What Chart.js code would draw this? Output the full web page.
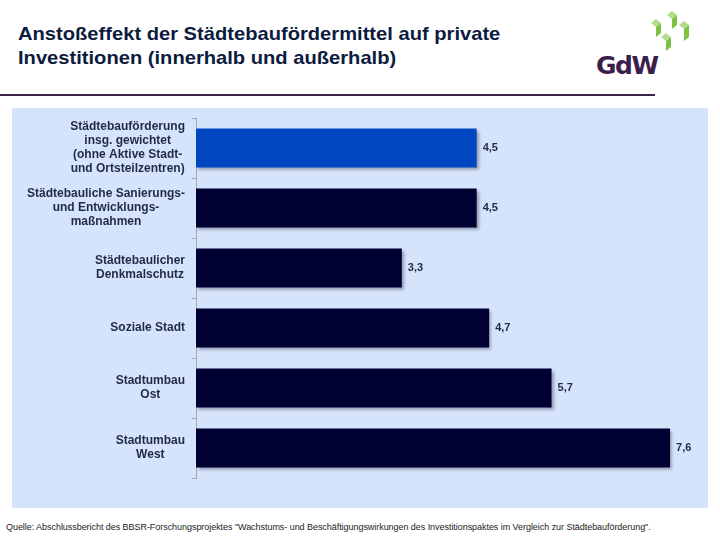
<!DOCTYPE html>
<html>
<head>
<meta charset="utf-8">
<script src="https://cdn.jsdelivr.net/npm/chart.js@4"></script>
<style>
  body { margin: 0; width: 720px; height: 540px; background: #fff; position: relative; overflow: hidden;
         font-family: 'Liberation Sans', Arial, sans-serif; }
  .title { position: absolute; left: 18px; top: 22px; font-size: 19px; font-weight: bold; color: #0d1b3e; line-height: 24px;
           transform: scaleX(1.06); transform-origin: left top; }
  .rule { position: absolute; left: 0; top: 94px; width: 655px; height: 2px; background: #3a2448; }
  .logo { position: absolute; left: 596px; top: 51px; font-size: 25px; font-weight: bold; color: #3b1e4b;
          font-family: 'DejaVu Sans', sans-serif; letter-spacing: -1.5px; }
  .cubes { position: absolute; left: 646px; top: 11px; }
  .panel { position: absolute; left: 12px; top: 108px; width: 696px; height: 400px; background: #d6e4fb; }
  .source { position: absolute; left: 6px; top: 522px; font-size: 9px; color: #222; letter-spacing: -0.05px; }
</style>
</head>
<body>
<div class="title">Anstoßeffekt der Städtebaufördermittel auf private<br>Investitionen (innerhalb und außerhalb)</div>
<svg class="cubes" width="48" height="44" viewBox="0 0 46 44">
  <polygon points="4,12 9,8 14,12 9,16" fill="#b5dc8a"/><polygon points="9,16 14,12 14,22 9,26" fill="#7cc242"/>
  <polygon points="20,4 25,0 30,4 25,8" fill="#b5dc8a"/><polygon points="25,8 30,4 30,14 25,18" fill="#7cc242"/>
  <polygon points="32,14 37,10 42,14 37,18" fill="#b5dc8a"/><polygon points="37,18 42,14 42,26 37,30" fill="#7cc242"/>
  <polygon points="14,26 19,22 24,26 19,30" fill="#b5dc8a"/><polygon points="19,30 24,26 24,36 19,40" fill="#7cc242"/>
</svg>
<div class="logo">GdW</div>
<div class="rule"></div>
<div class="panel"><canvas id="chart" width="696" height="400"></canvas></div>
<div class="source">Quelle: Abschlussbericht des BBSR-Forschungsprojektes "Wachstums- und Beschäftigungswirkungen des Investitionspaktes im Vergleich zur Städtebauförderung".</div>

<script>
// categories and values
const categories = [
  ['Städtebauförderung', 'insg. gewichtet', '(ohne Aktive Stadt-', 'und Ortsteilzentren)'],
  ['Städtebauliche Sanierungs-', 'und Entwicklungs-', 'maßnahmen'],
  ['Städtebaulicher', 'Denkmalschutz'],
  ['Soziale Stadt'],
  ['Stadtumbau', 'Ost'],
  ['Stadtumbau', 'West'],
];
const values = [4.5, 4.5, 3.3, 4.7, 5.7, 7.6];
const barColors = ['#0046c0', '#000033', '#000033', '#000033', '#000033', '#000033'];

const labelFont = "bold 12px 'Liberation Sans', Arial, sans-serif";

// bar shadow
const shadowPlugin = {
  id: 'barShadow',
  beforeDatasetDraw(chart) {
    const c = chart.ctx;
    c.save();
    c.shadowColor = 'rgba(60,60,80,0.45)';
    c.shadowOffsetX = 2;
    c.shadowOffsetY = 2;
    c.shadowBlur = 3;
  },
  afterDatasetDraw(chart) { chart.ctx.restore(); }
};

// category labels: block right-aligned, lines centered; values at bar ends
const labelPlugin = {
  id: 'labels',
  afterDraw(chart) {
    const c = chart.ctx;
    const y = chart.scales.y;
    c.save();
    c.font = labelFont;
    c.fillStyle = '#1f2a44';
    c.textBaseline = 'middle';
    c.textAlign = 'center';
    categories.forEach((lines, i) => {
      const w = Math.max(...lines.map(l => c.measureText(l).width));
      const cx = y.right - 11 - w / 2;
      const cy = y.getPixelForTick(i);
      const lh = 14;
      lines.forEach((l, k) => c.fillText(l, cx, cy + (k - (lines.length - 1) / 2) * lh));
    });
    c.font = "bold 11px 'Liberation Sans', Arial, sans-serif";
    c.textAlign = 'left';
    const meta = chart.getDatasetMeta(0);
    meta.data.forEach((bar, i) => {
      c.fillText(values[i].toFixed(1).replace('.', ','), bar.x + 6, bar.y);
    });
    c.restore();
  }
};

new Chart(document.getElementById('chart'), {
  type: 'bar',
  data: {
    labels: categories,
    datasets: [{
      data: values,
      backgroundColor: barColors,
      borderWidth: 0,
      barPercentage: 0.65,
      categoryPercentage: 1,
    }]
  },
  options: {
    indexAxis: 'y',
    responsive: false,
    animation: false,
    layout: { padding: { top: 10, bottom: 30, right: 13 } },
    plugins: { legend: { display: false }, tooltip: { enabled: false } },
    scales: {
      x: { display: false, min: 0, max: 8 },
      y: {
        grid: { offset: true, drawOnChartArea: false, tickLength: 4, color: '#a0a8b8' },
        border: { color: '#a0a8b8', width: 1 },
        ticks: { display: false },
        afterFit(scale) { scale.width = 184; }
      }
    }
  },
  plugins: [shadowPlugin, labelPlugin]
});
</script>
</body>
</html>
